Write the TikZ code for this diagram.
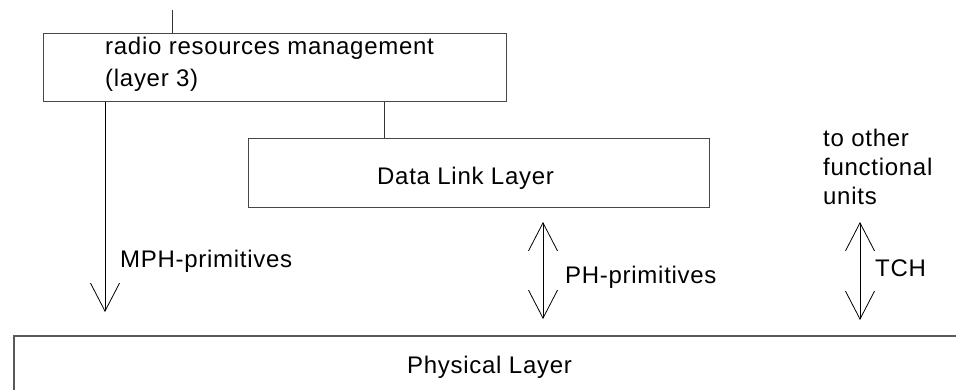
\documentclass[tikz,border=0pt]{standalone}
\usepackage{fontspec}
\setmainfont{Liberation Sans}[LetterSpace=3]
\usetikzlibrary{arrows.meta}
\begin{document}
\begin{tikzpicture}[x=1pt,y=-1pt,
  boxline/.style={draw=black!72,line width=1pt},
  conn/.style={draw=black!80,line width=0.9pt},
  sig/.style={draw=black,line width=0.8pt},
  vtip/.tip={Straight Barb[length=28pt,width=29pt,line width=0.8pt]},
  txt/.style={inner sep=0pt,font=\fontsize{24}{29}\selectfont}]
\clip (0,0) rectangle (956,389);
\fill[white] (0,0) rectangle (956,389);

% boxes
\node[boxline,anchor=north west,minimum width=463pt,minimum height=68pt,inner sep=0pt] (rrm) at (43,33) {};
\node[boxline,anchor=north west,minimum width=461pt,minimum height=69pt,inner sep=0pt] (dll) at (248,138) {};
\node[draw=black!65,line width=1.6pt,anchor=north west,minimum width=960pt,minimum height=80pt,inner sep=0pt] (phys) at (13,335) {};

% texts
\node[txt,font=\fontsize{24}{32}\selectfont,align=left,text depth=0pt,anchor=south west] (rrmtext) at (105,87) {radio resources management\\(layer 3)};
\node[txt,anchor=base west] (dlltext) at (377,184) {Data Link Layer};
\node[txt,anchor=base west] (phystext) at (407,373) {Physical Layer};
\node[txt,anchor=base west] (mph) at (120,267) {MPH-primitives};
\node[txt,anchor=base west] (ph) at (565,283) {PH-primitives};
\node[txt,anchor=base west] (tch) at (875,276) {TCH};
\node[txt,align=left,text depth=0pt,anchor=south west] (other) at (823,205) {to other\\functional\\units};

% coordinates
\coordinate (topin) at (172,10);
\coordinate (dlx) at (384,120);
\coordinate (mphx) at (105,200);
\coordinate (mphend) at (105,312);
\coordinate (pha) at (543,222);
\coordinate (phb) at (543,319);
\coordinate (tcha) at (860,222);
\coordinate (tchb) at (860,320);

% connectors
\draw[conn] (topin) -- (topin |- rrm.north);
\draw[conn] (rrm.south -| dlx) -- (dll.north -| dlx);
\draw[sig,-vtip] (rrm.south -| mphx) -- (mphend);
\draw[sig,vtip-vtip] (pha) -- (phb);
\draw[sig,vtip-vtip] (tcha) -- (tchb);
\end{tikzpicture}
\end{document}
